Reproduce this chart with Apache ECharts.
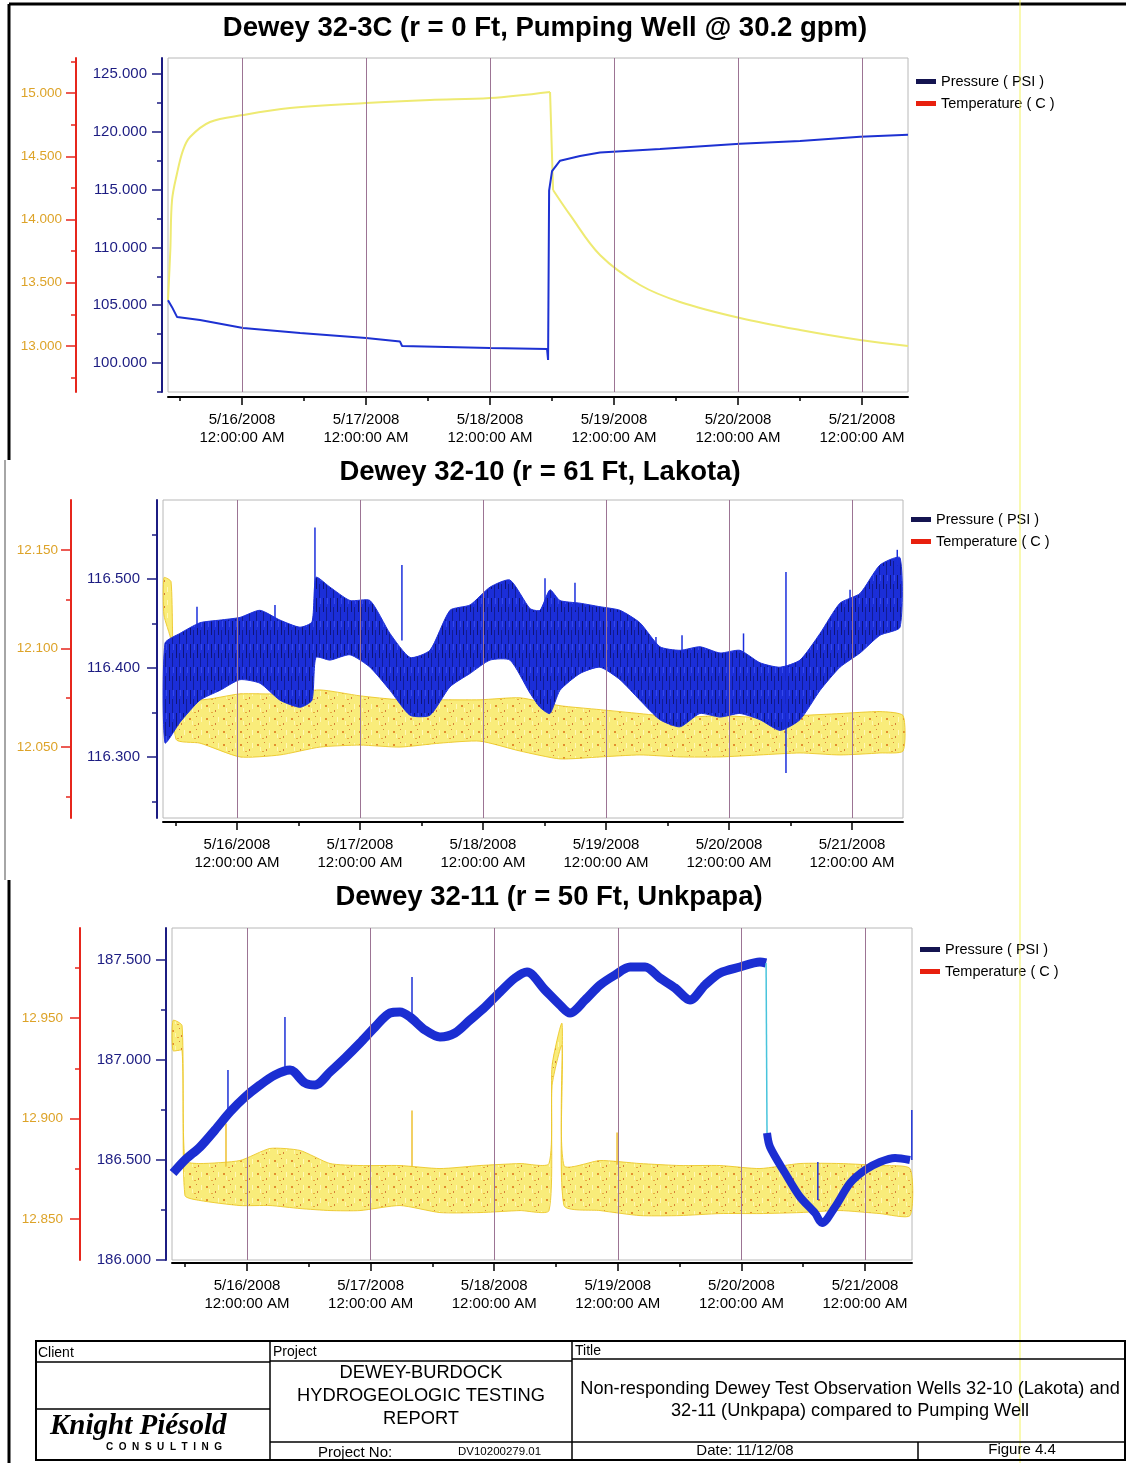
<!DOCTYPE html>
<html><head><meta charset="utf-8">
<script src="https://cdn.jsdelivr.net/npm/echarts@6/dist/echarts.min.js"></script>
<style>html,body{margin:0;padding:0;background:#fff}#c{width:1128px;height:1463px}</style>
</head><body><div id="c"></div><script>
// ---------------- DATA ----------------
const panelTitles = ['Dewey 32-3C (r = 0 Ft, Pumping Well @ 30.2 gpm)', 'Dewey 32-10 (r = 61 Ft, Lakota)', 'Dewey 32-11 (r = 50 Ft, Unkpapa)'];
const legendNames = ['Pressure ( PSI )', 'Temperature ( C )'];
const dayTicks = ['2008-05-16 00:00','2008-05-17 00:00','2008-05-18 00:00','2008-05-19 00:00','2008-05-20 00:00','2008-05-21 00:00'];
const noonTicks = ['2008-05-15 12:00','2008-05-16 12:00','2008-05-17 12:00','2008-05-18 12:00','2008-05-19 12:00','2008-05-20 12:00'];

// Panel 1 : Dewey 32-3C
const p1Range = ['2008-05-15 09:40', '2008-05-21 08:54'];
const p1PresTicks = [100, 105, 110, 115, 120, 125];
const p1PresMinor = [97.5, 102.5, 107.5, 112.5, 117.5, 122.5];
const p1TempTicks = [13.0, 13.5, 14.0, 14.5, 15.0];
const p1TempMinor = [12.75, 13.25, 13.75, 14.25, 14.75, 15.25];
const p1PresTimes = ['2008-05-15 09:40','2008-05-15 10:27','2008-05-15 11:26','2008-05-15 15:52','2008-05-16 00:12','2008-05-16 11:14','2008-05-17 00:00','2008-05-17 06:35','2008-05-17 06:58','2008-05-18 00:00','2008-05-18 11:02','2008-05-18 11:14','2008-05-18 11:26','2008-05-18 12:00','2008-05-18 13:33','2008-05-18 17:25','2008-05-18 21:17','2008-05-19 08:54','2008-05-20 00:23','2008-05-20 12:00','2008-05-20 23:37','2008-05-21 08:54'];
const p1PresValues = [105.43,104.83,103.97,103.71,103.02,102.59,102.16,101.85,101.47,101.29,101.21,100.26,114.9,116.6,117.5,117.9,118.2,118.5,118.97,119.2,119.57,119.74];
// temperature before and after the pumping change
const p1TempTimes = ['2008-05-15 09:40','2008-05-15 10:07','2008-05-15 10:27','2008-05-15 11:26','2008-05-15 12:35','2008-05-15 13:56','2008-05-15 17:48','2008-05-16 00:12','2008-05-16 09:17','2008-05-17 00:00','2008-05-17 12:23','2008-05-18 00:00','2008-05-18 11:37'];
const p1TempValues = [13.364,13.759,14.154,14.368,14.549,14.652,14.771,14.826,14.881,14.921,14.945,14.960,15.008];
const p1TempAfterTimes = ['2008-05-18 12:12','2008-05-18 15:29','2008-05-18 21:17','2008-05-19 05:02','2008-05-19 12:46','2008-05-20 00:23','2008-05-20 12:00','2008-05-20 23:37','2008-05-21 08:54'];
const p1TempAfterValues = [14.233,14.036,13.719,13.482,13.348,13.221,13.126,13.047,13.000];

// Panel 2 : Dewey 32-10 (noisy bands read as upper / lower envelopes)
const p2Range = ['2008-05-15 09:34', '2008-05-21 09:57'];
const p2PresTicks = [116.3, 116.4, 116.5];
const p2PresMinor = [116.25, 116.35, 116.45, 116.55];
const p2TempTicks = [12.05, 12.10, 12.15];
const p2TempMinor = [12.025, 12.075, 12.125];
const p2PresTimes = ['2008-05-15 09:57','2008-05-15 12:52','2008-05-15 16:47','2008-05-15 20:41','2008-05-16 00:35','2008-05-16 04:29','2008-05-16 08:23','2008-05-16 12:17','2008-05-16 14:38','2008-05-16 15:25','2008-05-16 18:09','2008-05-16 22:03','2008-05-17 01:57','2008-05-17 05:51','2008-05-17 09:46','2008-05-17 13:39','2008-05-17 17:34','2008-05-17 21:28','2008-05-18 01:22','2008-05-18 05:16','2008-05-18 09:10','2008-05-18 11:07','2008-05-18 13:04','2008-05-18 15:01','2008-05-18 18:56','2008-05-18 22:50','2008-05-19 02:44','2008-05-19 06:37','2008-05-19 10:32','2008-05-19 14:27','2008-05-19 18:20','2008-05-19 22:15','2008-05-20 02:08','2008-05-20 06:03','2008-05-20 09:58','2008-05-20 13:51','2008-05-20 17:46','2008-05-20 21:39','2008-05-21 01:34','2008-05-21 05:28','2008-05-21 09:22'];
const p2PresHigh = [116.428,116.439,116.451,116.454,116.457,116.465,116.454,116.446,116.452,116.502,116.491,116.476,116.476,116.439,116.412,116.420,116.465,116.471,116.491,116.499,116.467,116.465,116.488,116.476,116.473,116.469,116.465,116.451,116.424,116.420,116.424,116.417,116.420,116.406,116.401,116.409,116.439,116.473,116.484,116.516,116.524];
const p2PresLow = [116.316,116.339,116.364,116.375,116.387,116.383,116.364,116.356,116.364,116.412,116.409,116.415,116.401,116.375,116.347,116.347,116.379,116.394,116.409,116.409,116.372,116.356,116.349,116.375,116.394,116.401,116.387,116.364,116.342,116.334,116.349,116.345,116.349,116.342,116.330,116.342,116.375,116.401,116.417,116.437,116.446];
const p2SpikeTimes = ['2008-05-15 16:12','2008-05-16 07:25','2008-05-16 15:13','2008-05-17 08:11','2008-05-18 12:06','2008-05-18 17:57','2008-05-19 09:45','2008-05-19 14:50','2008-05-20 02:50','2008-05-20 11:07','2008-05-20 23:37','2008-05-21 08:50'];
const p2SpikeBase = [116.445,116.455,116.476,116.431,116.465,116.465,116.420,116.418,116.418,116.282,116.450,116.515];
const p2SpikeTop = [116.469,116.471,116.558,116.516,116.501,116.496,116.435,116.437,116.439,116.508,116.488,116.533];
const p2TempTimes = ['2008-05-15 09:45','2008-05-15 11:08','2008-05-15 12:06','2008-05-15 16:47','2008-05-16 00:35','2008-05-16 08:23','2008-05-16 16:12','2008-05-17 00:00','2008-05-17 07:48','2008-05-17 15:36','2008-05-17 23:25','2008-05-18 07:13','2008-05-18 15:01','2008-05-18 22:50','2008-05-19 06:37','2008-05-19 14:27','2008-05-19 22:15','2008-05-20 06:03','2008-05-20 13:51','2008-05-20 21:39','2008-05-21 05:28','2008-05-21 09:57'];
const p2TempHigh = [12.136,12.134,12.079,12.074,12.077,12.077,12.079,12.076,12.074,12.074,12.074,12.075,12.071,12.069,12.067,12.065,12.066,12.065,12.066,12.067,12.068,12.066];
const p2TempLow = [12.117,12.104,12.054,12.052,12.045,12.046,12.050,12.051,12.050,12.052,12.053,12.048,12.044,12.045,12.046,12.045,12.045,12.046,12.047,12.046,12.047,12.048];

// Panel 3 : Dewey 32-11
const p3Range = ['2008-05-15 09:26', '2008-05-21 09:07'];
const p3PresTicks = [186.0, 186.5, 187.0, 187.5];
const p3PresMinor = [186.25, 186.75, 187.25];
const p3TempTicks = [12.85, 12.90, 12.95];
const p3TempMinor = [12.875, 12.925, 12.975];
const p3PresBeforeTimes = ['2008-05-15 09:38','2008-05-15 11:57','2008-05-15 14:53','2008-05-15 17:47','2008-05-15 20:41','2008-05-15 23:37','2008-05-16 02:31','2008-05-16 05:26','2008-05-16 08:21','2008-05-16 11:16','2008-05-16 13:12','2008-05-16 16:07','2008-05-16 19:02','2008-05-16 21:56','2008-05-17 00:52','2008-05-17 03:46','2008-05-17 05:42','2008-05-17 07:39','2008-05-17 10:34','2008-05-17 13:28','2008-05-17 16:23','2008-05-17 19:18','2008-05-17 22:13','2008-05-18 01:08','2008-05-18 04:02','2008-05-18 06:22','2008-05-18 09:52','2008-05-18 12:46','2008-05-18 14:43','2008-05-18 17:38','2008-05-18 20:33','2008-05-18 23:27','2008-05-19 02:23','2008-05-19 05:17','2008-05-19 08:11','2008-05-19 11:07','2008-05-19 14:01','2008-05-19 16:56','2008-05-19 19:51','2008-05-19 23:44','2008-05-20 03:36','2008-05-20 04:47'];
const p3PresBeforeValues = [186.435,186.50,186.565,186.65,186.74,186.815,186.875,186.925,186.95,186.885,186.875,186.94,187.01,187.085,187.165,187.235,187.24,187.215,187.15,187.115,187.135,187.20,187.265,187.34,187.41,187.44,187.35,187.275,187.235,187.30,187.375,187.425,187.465,187.465,187.41,187.36,187.30,187.375,187.435,187.465,187.49,187.485];
const p3PresAfterTimes = ['2008-05-20 04:58','2008-05-20 05:33','2008-05-20 08:28','2008-05-20 11:23','2008-05-20 14:17','2008-05-20 15:39','2008-05-20 18:10','2008-05-20 21:06','2008-05-21 00:00','2008-05-21 02:54','2008-05-21 05:50','2008-05-21 08:44'];
const p3PresAfterValues = [186.635,186.565,186.435,186.315,186.235,186.185,186.265,186.385,186.45,186.49,186.51,186.50];
const p3SpikeTimes = ['2008-05-15 20:18','2008-05-16 07:22','2008-05-17 08:02','2008-05-20 14:50','2008-05-21 09:05'];
const p3SpikeBase = [186.73,186.95,187.22,186.30,186.50];
const p3SpikeTop = [186.95,187.215,187.415,186.49,186.75];
const p3TempTimes = ['2008-05-15 09:38','2008-05-15 11:23','2008-05-15 11:57','2008-05-15 14:53','2008-05-15 22:38','2008-05-16 04:28','2008-05-16 10:18','2008-05-16 16:07','2008-05-16 21:56','2008-05-17 05:42','2008-05-17 13:28','2008-05-17 21:14','2008-05-18 05:01','2008-05-18 10:38','2008-05-18 11:14','2008-05-18 13:10','2008-05-18 13:33','2008-05-18 20:33','2008-05-19 04:19','2008-05-19 12:04','2008-05-19 19:51','2008-05-20 03:36','2008-05-20 11:23','2008-05-20 19:09','2008-05-21 02:54','2008-05-21 08:44'];
const p3TempHigh = [12.9488,12.9463,12.8791,12.8776,12.8791,12.8851,12.8841,12.8776,12.8766,12.8766,12.8751,12.8766,12.8776,12.8776,12.9264,12.9473,12.8766,12.8791,12.8776,12.8766,12.8766,12.8751,12.8776,12.8776,12.8766,12.8751];
const p3TempLow = [12.9338,12.9338,12.8617,12.8592,12.8567,12.8567,12.8552,12.8542,12.8542,12.8567,12.8532,12.8532,12.8542,12.8542,12.9164,12.9363,12.8567,12.8542,12.8517,12.8517,12.8527,12.8527,12.8532,12.8542,12.8527,12.8517];
const p3TempSpikeTimes = ['2008-05-15 19:55','2008-05-17 08:02','2008-05-18 23:51'];
const p3TempSpikeBase = [12.876,12.876,12.877];
const p3TempSpikeTop = [12.8975,12.904,12.893];

// ---------------- HELPERS ----------------
const FONT = "'Liberation Sans', Arial, sans-serif";
const T = s => new Date(s.replace(' ', 'T') + ':00').getTime();
const pairs = (ts, vs) => ts.map((t, i) => [T(t), vs[i]]);
const dayMs = dayTicks.map(T), noonMs = noonTicks.map(T);
const NAVY = '#1c1c82', RED = '#e6261c', TLAB = '#dda328';

// fill textures (purely stylistic: streaky blue trace, speckled yellow trace)
function makePattern(w, h, bg, strokes) {
  const c = document.createElement('canvas'); c.width = w; c.height = h;
  const g = c.getContext('2d'); g.fillStyle = bg; g.fillRect(0, 0, w, h);
  strokes.forEach(s => { g.fillStyle = s[4]; g.fillRect(s[0], s[1], s[2], s[3]); });
  return { image: c, repeat: 'repeat' };
}
const bluePattern = makePattern(7, 23, '#1b2ed8', [[1, 0, 1, 14, 'rgba(8,12,80,0.7)'], [4, 9, 1, 14, 'rgba(8,12,80,0.5)'], [5, 0, 1, 6, 'rgba(60,80,240,0.8)']]);
const yellowPattern = makePattern(17, 13, 'rgba(246,228,70,0.72)', [
  [2, 3, 2, 2, 'rgba(220,120,30,0.8)'], [11, 8, 1, 2, 'rgba(200,80,30,0.7)'], [7, 10, 2, 1, 'rgba(225,140,40,0.7)'],
  [14, 2, 1, 5, 'rgba(255,250,190,0.9)'], [5, 6, 1, 4, 'rgba(255,250,190,0.8)'], [9, 1, 1, 1, 'rgba(200,90,30,0.7)']]);

function fmtDate(v) {
  const d = new Date(v);
  let h = d.getHours(); const ap = h < 12 ? 'AM' : 'PM'; h = h % 12; if (h === 0) h = 12;
  const p = n => (n < 10 ? '0' : '') + n;
  return (d.getMonth() + 1) + '/' + d.getDate() + '/' + d.getFullYear() + '\n' + h + ':' + p(d.getMinutes()) + ':' + p(d.getSeconds()) + ' ' + ap;
}

// time is carried on a value axis (milliseconds) so that custom tick positions can be used
function xAxes(g, range, offset) {
  const min = T(range[0]), max = T(range[1]);
  return [
    { type: 'value', gridIndex: g, position: 'bottom', offset, min, max, scale: true,
      axisLine: { onZero: false, lineStyle: { color: '#000', width: 2 } },
      axisTick: { show: true, customValues: dayMs, length: 8, lineStyle: { color: '#000', width: 1.5 } },
      axisLabel: { customValues: dayMs, formatter: fmtDate, fontSize: 15, lineHeight: 18, margin: 14, color: '#000', fontFamily: FONT },
      splitLine: { show: false } },
    { type: 'value', gridIndex: g, position: 'bottom', offset, min, max, scale: true,
      axisLine: { show: false, onZero: false },
      axisTick: { show: true, customValues: noonMs, length: 4, lineStyle: { color: '#000', width: 1.5 } },
      axisLabel: { show: false }, splitLine: { show: false } }
  ];
}
function yAxes(g, min, max, major, minor, offset, lineColor, labelColor, fontSize, margin) {
  return [
    { type: 'value', gridIndex: g, position: 'left', offset, min, max, scale: true,
      axisLine: { show: true, onZero: false, lineStyle: { color: lineColor, width: 2 } },
      axisTick: { show: true, customValues: major, length: 10, lineStyle: { color: lineColor, width: 1.5 } },
      axisLabel: { customValues: major, formatter: v => v.toFixed(3), color: labelColor, fontSize, fontFamily: FONT, margin },
      splitLine: { show: false } },
    { type: 'value', gridIndex: g, position: 'left', offset, min, max, scale: true,
      axisLine: { show: false, onZero: false },
      axisTick: { show: true, customValues: minor, length: 5, lineStyle: { color: lineColor, width: 1.5 } },
      axisLabel: { show: false }, splitLine: { show: false } }
  ];
}
function band(name, g, yIdx, times, hi, lo, fill, stroke, z) {
  const th = times.map(T);
  return { type: 'custom', name, xAxisIndex: 2 * g, yAxisIndex: yIdx, z, silent: true, animation: false,
    data: [[th[0], hi[0]]],
    renderItem: (params, api) => {
      const pts = [];
      for (let i = 0; i < th.length; i++) pts.push(api.coord([th[i], hi[i]]));
      for (let i = th.length - 1; i >= 0; i--) pts.push(api.coord([th[i], lo[i]]));
      return { type: 'polygon', shape: { points: pts, smooth: 0.2 }, style: { fill, stroke, lineWidth: 1 } };
    } };
}
function spikes(name, g, yIdx, times, base, top, color, w, z) {
  return { type: 'custom', name, xAxisIndex: 2 * g, yAxisIndex: yIdx, z, silent: true, animation: false,
    encode: { x: 0, y: [1, 2] },
    data: times.map((t, i) => [T(t), base[i], top[i]]),
    renderItem: (params, api) => {
      const a = api.coord([api.value(0), api.value(1)]), b = api.coord([api.value(0), api.value(2)]);
      return { type: 'line', shape: { x1: a[0], y1: a[1], x2: b[0], y2: b[1] }, style: { stroke: color, lineWidth: w } };
    } };
}
function gridLines(g, yVal) {
  return { type: 'line', name: 'grid' + g, xAxisIndex: 2 * g, yAxisIndex: 4 * g, z: 1, silent: true, animation: false,
    data: [[dayMs[0], yVal]], showSymbol: false, lineStyle: { opacity: 0 },
    markLine: { symbol: ['none', 'none'], silent: true, animation: false, label: { show: false },
      lineStyle: { color: '#9c7494', width: 1, type: 'solid' },
      data: dayMs.map(v => ({ xAxis: v })) } };
}
function legendAt(left, top) {
  return { left, top, padding: 0, orient: 'vertical', icon: 'rect', itemWidth: 20, itemHeight: 5, itemGap: 7, selectedMode: false,
    textStyle: { fontSize: 14.5, fontFamily: FONT, color: '#000' },
    data: [{ name: legendNames[0], itemStyle: { color: '#141450' } }, { name: legendNames[1], itemStyle: { color: '#e8200e' } }] };
}

// ---------------- GRAPHICS (titles, frame, title block) ----------------
const txt = (text, x, y, size, opts = {}) => ({ type: 'text', x, y, silent: true, z: 50,
  style: { text, font: (opts.weight || 'normal') + ' ' + size + 'px ' + (opts.family || FONT), fill: opts.color || '#000',
    align: opts.align || 'center', textAlign: opts.align || 'center', verticalAlign: 'middle', textVerticalAlign: 'middle' } });
const ln = (x1, y1, x2, y2, w, c) => ({ type: 'line', silent: true, z: 50, shape: { x1, y1, x2, y2 }, style: { stroke: c || '#000', lineWidth: w } });

const graphics = [
  txt(panelTitles[0], 545, 28, 27.5, { weight: 'bold' }),
  txt(panelTitles[1], 540, 472, 27.5, { weight: 'bold' }),
  txt(panelTitles[2], 549, 897, 27.5, { weight: 'bold' }),
  ln(9, 4, 1126, 4, 3), ln(9, 4, 9, 460, 3), ln(5, 460, 5, 880, 1.5, '#888'), ln(9, 880, 9, 1463, 3),
  ln(1020, 0, 1020, 1463, 1.5, 'rgba(240,240,80,0.6)'),
  { type: 'rect', silent: true, z: 50, shape: { x: 36, y: 1341, width: 1089, height: 119 }, style: { fill: 'none', stroke: '#000', lineWidth: 2 } },
  ln(270, 1341, 270, 1460, 1.5), ln(572, 1341, 572, 1460, 1.5),
  ln(36, 1362, 270, 1362, 1.5), ln(270, 1361, 572, 1361, 1.5), ln(572, 1359, 1125, 1359, 1.5),
  ln(36, 1409, 270, 1409, 1.5), ln(270, 1442, 1125, 1442, 1.5), ln(918, 1442, 918, 1460, 1.5),
  txt('Client', 38, 1353, 14, { align: 'left' }),
  txt('Project', 273, 1352, 14, { align: 'left' }),
  txt('Title', 575, 1351, 14, { align: 'left' }),
  txt('DEWEY-BURDOCK', 421, 1373, 18.3),
  txt('HYDROGEOLOGIC TESTING', 421, 1396, 18.3),
  txt('REPORT', 421, 1419, 18.3),
  txt('Project No:', 318, 1453, 15, { align: 'left' }),
  txt('DV10200279.01', 458, 1452, 11.5, { align: 'left' }),
  txt('Non-responding Dewey Test Observation Wells 32-10 (Lakota) and', 850, 1389, 18.2),
  txt('32-11 (Unkpapa) compared to Pumping Well', 850, 1411, 18.2),
  txt('Date: 11/12/08', 745, 1451, 15),
  txt('Figure 4.4', 1022, 1450, 15),
  txt('Knight Piésold', 50, 1427, 29, { align: 'left', weight: 'italic bold', family: "'Liberation Serif', 'DejaVu Serif', serif" }),
  txt('C  O  N  S  U  L  T  I  N  G', 106, 1447, 10, { align: 'left', weight: 'bold' })
];

// ---------------- OPTION ----------------
const p1TempStyle = { lineStyle: { color: '#eeea72', width: 2 }, itemStyle: { color: '#eeea72' } };
const option = {
  backgroundColor: '#fff',
  animation: false,
  textStyle: { fontFamily: FONT },
  grid: [
    { left: 168, top: 58, width: 740, height: 334, show: true, borderColor: '#b8b8b8', borderWidth: 1 },
    { left: 163, top: 500, width: 740, height: 318, show: true, borderColor: '#b8b8b8', borderWidth: 1 },
    { left: 172, top: 928, width: 740, height: 332, show: true, borderColor: '#b8b8b8', borderWidth: 1 }
  ],
  xAxis: [].concat(xAxes(0, p1Range, 5), xAxes(1, p2Range, 4), xAxes(2, p3Range, 3)),
  yAxis: [].concat(
    yAxes(0, 97.49, 126.38, p1PresTicks, p1PresMinor, 6, NAVY, NAVY, 15, 15),
    yAxes(0, 12.636, 15.277, p1TempTicks, p1TempMinor, 92, RED, TLAB, 13.5, 14),
    yAxes(1, 116.2315, 116.589, p2PresTicks, p2PresMinor, 6, NAVY, NAVY, 15, 17),
    yAxes(1, 12.014, 12.1754, p2TempTicks, p2TempMinor, 92, RED, TLAB, 13.5, 13),
    yAxes(2, 186.0, 187.66, p3PresTicks, p3PresMinor, 6, NAVY, NAVY, 15, 15),
    yAxes(2, 12.8296, 12.9948, p3TempTicks, p3TempMinor, 92, RED, TLAB, 13.5, 17)
  ),
  legend: [legendAt(916, 74), legendAt(911, 512), legendAt(920, 942)],
  graphic: graphics,
  series: [
    gridLines(0, 110),
    Object.assign({ type: 'line', name: legendNames[1], xAxisIndex: 0, yAxisIndex: 2, z: 3, showSymbol: false, silent: true, smooth: 0.35,
      data: pairs(p1TempTimes, p1TempValues) }, p1TempStyle),
    Object.assign({ type: 'line', name: 'p1tempJoin', xAxisIndex: 0, yAxisIndex: 2, z: 3, showSymbol: false, silent: true,
      data: [[T(p1TempTimes[p1TempTimes.length - 1]), p1TempValues[p1TempValues.length - 1]], [T(p1TempAfterTimes[0]), p1TempAfterValues[0]]] }, p1TempStyle),
    Object.assign({ type: 'line', name: legendNames[1], xAxisIndex: 0, yAxisIndex: 2, z: 3, showSymbol: false, silent: true, smooth: 0.35,
      data: pairs(p1TempAfterTimes, p1TempAfterValues) }, p1TempStyle),
    { type: 'line', name: legendNames[0], xAxisIndex: 0, yAxisIndex: 0, z: 4, showSymbol: false, silent: true,
      data: pairs(p1PresTimes, p1PresValues), lineStyle: { color: '#1d31d2', width: 2 }, itemStyle: { color: '#1d31d2' } },
    gridLines(1, 116.4),
    band(legendNames[1], 1, 6, p2TempTimes, p2TempHigh, p2TempLow, yellowPattern, 'rgba(236,200,40,0.9)', 3),
    band(legendNames[0], 1, 4, p2PresTimes, p2PresHigh, p2PresLow, bluePattern, '#1b2ed8', 4),
    spikes('p2spikes', 1, 4, p2SpikeTimes, p2SpikeBase, p2SpikeTop, '#1b2fdc', 1.5, 5),
    gridLines(2, 187),
    band(legendNames[1], 2, 10, p3TempTimes, p3TempHigh, p3TempLow, yellowPattern, 'rgba(236,200,40,0.9)', 3),
    spikes('p3tspikes', 2, 10, p3TempSpikeTimes, p3TempSpikeBase, p3TempSpikeTop, '#eec030', 1.5, 3),
    { type: 'line', name: legendNames[0], xAxisIndex: 4, yAxisIndex: 8, z: 4, showSymbol: false, silent: true,
      smooth: 0.3,
      data: pairs(p3PresBeforeTimes, p3PresBeforeValues), lineStyle: { color: '#1b2ed2', width: 9 }, itemStyle: { color: '#1b2ed2' } },
    { type: 'line', name: 'drop', xAxisIndex: 4, yAxisIndex: 8, z: 4, showSymbol: false, silent: true,
      data: [[T(p3PresBeforeTimes[p3PresBeforeTimes.length - 1]), p3PresBeforeValues[p3PresBeforeValues.length - 1]], [T(p3PresAfterTimes[0]), p3PresAfterValues[0]]],
      lineStyle: { color: '#48c4dc', width: 1.5 } },
    { type: 'line', name: legendNames[0], xAxisIndex: 4, yAxisIndex: 8, z: 4, showSymbol: false, silent: true,
      smooth: 0.3,
      data: pairs(p3PresAfterTimes, p3PresAfterValues), lineStyle: { color: '#1b2ed2', width: 8 }, itemStyle: { color: '#1b2ed2' } },
    spikes('p3spikes', 2, 8, p3SpikeTimes, p3SpikeBase, p3SpikeTop, '#1d31d6', 1.5, 5)
  ]
};
const chart = echarts.init(document.getElementById('c'), null, { renderer: 'canvas' });
chart.setOption(option);
</script></body></html>
